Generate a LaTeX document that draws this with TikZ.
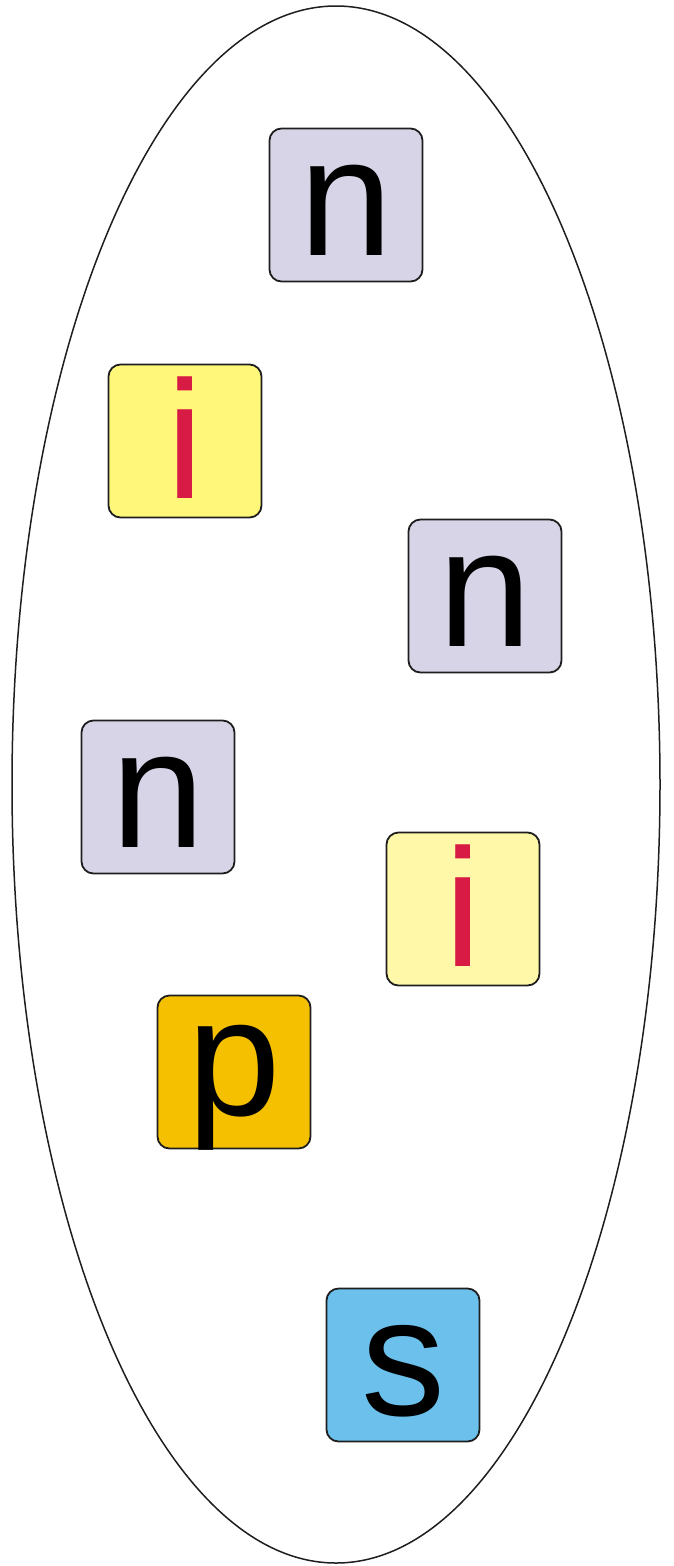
\documentclass[tikz,border=0pt]{standalone}
\usepackage{fontspec}
\setmainfont{Liberation Sans}
\usepackage{tikz}
\usetikzlibrary{positioning}
\usepackage{xcolor}
\definecolor{nlilac}{RGB}{216,212,232}
\definecolor{iyellow}{RGB}{255,247,122}
\definecolor{ipale}{RGB}{255,248,168}
\definecolor{porange}{RGB}{245,192,0}
\definecolor{sblue}{RGB}{108,192,236}
\definecolor{ired}{RGB}{216,27,69}
\definecolor{edge}{RGB}{30,30,30}

\begin{document}
\begin{tikzpicture}[x=1pt,y=-1pt,
    tile/.style={draw=edge,line width=1.8pt,rounded corners=12pt,minimum width=153pt,minimum height=153pt,
      inner sep=0pt,text height=100pt,text depth=0pt,font=\fontsize{168}{168}\selectfont},
    ntile/.style={tile,fill=nlilac},
    itile/.style={tile,text=ired,text height=114pt}
]
\useasboundingbox (0,0) rectangle (673,1566);
\draw[edge,line width=1.5pt] (336,784.5) ellipse [x radius=324, y radius=778.5];
\node[ntile] (n1) at (346,205) {n};
\node[itile,fill=iyellow] (i1) at (185,441) {i};
\node[ntile] (n2) at (485,596) {n};
\node[ntile] (n3) at (158,797) {n};
\node[itile,fill=ipale] (i2) at (463,909) {i};
\node[tile,fill=porange,text height=86pt] (p) at (234,1072) {p};
\node[tile,fill=sblue] (s) at (403,1365) {s};
\end{tikzpicture}
\end{document}
